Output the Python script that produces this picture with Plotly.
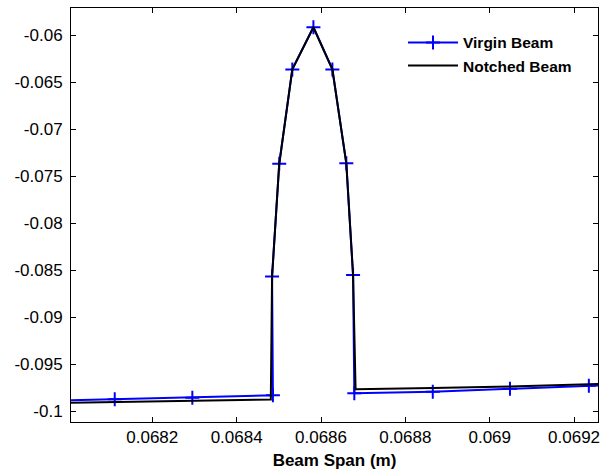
import plotly.graph_objects as go

# Virgin beam (blue, + markers)
virgin_x = [0.067927, 0.068111, 0.068295, 0.068486, 0.068484, 0.068501, 0.068532,
            0.068582, 0.068627, 0.068660, 0.068676, 0.068679, 0.068865, 0.069048,
            0.069235, 0.069418]
virgin_y = [-0.09894, -0.09875, -0.09858, -0.09832, -0.08566, -0.07366, -0.06361,
            -0.05912, -0.06361, -0.07361, -0.08550, -0.09811, -0.09795, -0.09763,
            -0.09732, -0.09700]

# Notched beam (black line)
notched_x = [0.067927, 0.068111, 0.068295, 0.068481, 0.068484, 0.068501, 0.068532,
             0.068582, 0.068627, 0.068660, 0.068676, 0.068682, 0.068865, 0.069048,
             0.069235, 0.069418]
notched_y = [-0.09917, -0.09904, -0.09893, -0.09877, -0.08566, -0.07366, -0.06361,
             -0.05912, -0.06361, -0.07361, -0.08550, -0.09769, -0.09754, -0.09740,
             -0.09716, -0.09691]

x_ticks = [0.0682, 0.0684, 0.0686, 0.0688, 0.0690, 0.0692]
x_tick_labels = ["0.0682", "0.0684", "0.0686", "0.0688", "0.069", "0.0692"]
y_ticks = [-0.06, -0.065, -0.07, -0.075, -0.08, -0.085, -0.09, -0.095, -0.1]
y_tick_labels = ["-0.06", "-0.065", "-0.07", "-0.075", "-0.08", "-0.085", "-0.09", "-0.095", "-0.1"]

x_range = [0.0680073, 0.0692567]
y_range = [-0.10117, -0.05707]

FONT = "Liberation Sans, Arial, sans-serif"

fig = go.Figure()
fig.add_trace(go.Scatter(
    x=virgin_x, y=virgin_y, mode="lines+markers", name="<b>Virgin Beam</b>",
    line=dict(color="#0000ff", width=2),
    marker=dict(symbol="cross-thin", size=10, color="#0000ff",
                line=dict(color="#0000ff", width=2)),
    cliponaxis=True,
))
fig.add_trace(go.Scatter(
    x=notched_x, y=notched_y, mode="lines", name="<b>Notched Beam</b>",
    line=dict(color="#000000", width=2),
))

axis_common = dict(
    showgrid=False, zeroline=False, showline=True, linecolor="black", linewidth=1,
    mirror="ticks", ticks="inside", ticklen=5, tickwidth=1, tickcolor="black",
    tickfont=dict(family=FONT, size=17, color="black"),
)

fig.update_layout(
    width=607, height=476,
    margin=dict(l=71, r=7, t=7, b=54),
    paper_bgcolor="white", plot_bgcolor="white",
    font=dict(family=FONT, color="black"),
    xaxis=dict(range=x_range, tickvals=x_ticks, ticktext=x_tick_labels,
               title=dict(text="<b>Beam Span (m)</b>", font=dict(family=FONT, size=17), standoff=7),
               **axis_common),
    yaxis=dict(range=y_range, tickvals=y_ticks, ticktext=y_tick_labels,
               ticklabelstandoff=4, **axis_common),
    legend=dict(x=0.63, y=0.957, xanchor="left", yanchor="top",
                bgcolor="rgba(0,0,0,0)", borderwidth=0,
                font=dict(family=FONT, size=15.5, color="black"),
                itemwidth=50, tracegroupgap=0),
    showlegend=True,
)

fig.write_html("out.html")
